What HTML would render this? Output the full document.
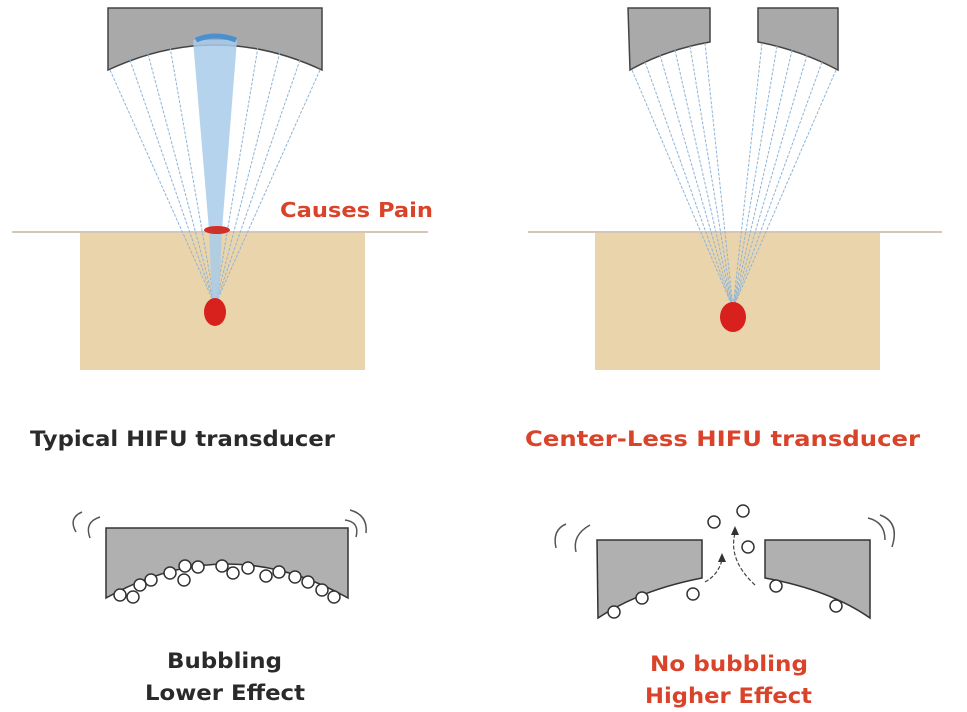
<!DOCTYPE html>
<html><head><meta charset="utf-8"><style>
html,body{margin:0;padding:0;background:#fff}
svg{display:block}
text{font-family:"DejaVu Sans","Liberation Sans",sans-serif;font-weight:bold}
</style></head><body>
<svg width="967" height="712" viewBox="0 0 967 712" xmlns="http://www.w3.org/2000/svg">
<!-- LEFT top -->
<line x1="12" y1="232" x2="428" y2="232" stroke="#c9b49a" stroke-width="1.5"/>
<rect x="80" y="233" width="285" height="137" fill="#e9d4ab"/>
<path d="M108 8 H322 V70 Q215 20 108 70 Z" fill="#a9a9a9" stroke="#444" stroke-width="1.5"/>
<g stroke="#8fb5d8" stroke-width="1" stroke-dasharray="3,1.5" fill="none">
<line x1="110" y1="70" x2="215" y2="305"/>
<line x1="130" y1="60" x2="215" y2="305"/>
<line x1="148" y1="54" x2="215" y2="305"/>
<line x1="170" y1="47" x2="215" y2="305"/>
<line x1="258" y1="47" x2="215" y2="305"/>
<line x1="280" y1="52" x2="215" y2="305"/>
<line x1="300" y1="60" x2="215" y2="305"/>
<line x1="320" y1="70" x2="215" y2="305"/>
</g>
<path d="M193 40 L237 40 L222 230 L219 300 L212 300 L209 230 Z" fill="#a8cbea" opacity="0.85"/>
<path d="M196 40 Q215 32 236 40" stroke="#4a90d0" stroke-width="5" fill="none"/>
<ellipse cx="217" cy="230" rx="13" ry="4" fill="#d0302a"/>
<ellipse cx="215" cy="312" rx="11" ry="14" fill="#d8201c"/>
<text x="280" y="217" font-size="20" fill="#d9432a" textLength="153" lengthAdjust="spacingAndGlyphs">Causes Pain</text>
<!-- RIGHT top -->
<line x1="528" y1="232" x2="942" y2="232" stroke="#c9b49a" stroke-width="1.5"/>
<rect x="595" y="233" width="285" height="137" fill="#e9d4ab"/>
<path d="M628 8 H710 V42 Q665 50 630 70 Z" fill="#a9a9a9" stroke="#444" stroke-width="1.5"/>
<path d="M758 8 H838 V70 Q800 50 758 42 Z" fill="#a9a9a9" stroke="#444" stroke-width="1.5"/>
<g stroke="#8fb5d8" stroke-width="1" stroke-dasharray="3,1.5" fill="none">
<line x1="632" y1="70" x2="733" y2="308"/>
<line x1="645" y1="62" x2="733" y2="308"/>
<line x1="660" y1="55" x2="733" y2="308"/>
<line x1="675" y1="50" x2="733" y2="308"/>
<line x1="690" y1="46" x2="733" y2="308"/>
<line x1="705" y1="43" x2="733" y2="308"/>
<line x1="762" y1="43" x2="733" y2="308"/>
<line x1="777" y1="46" x2="733" y2="308"/>
<line x1="792" y1="50" x2="733" y2="308"/>
<line x1="807" y1="55" x2="733" y2="308"/>
<line x1="822" y1="62" x2="733" y2="308"/>
<line x1="836" y1="70" x2="733" y2="308"/>
</g>
<ellipse cx="733" cy="317" rx="13" ry="15" fill="#d8201c"/>
<!-- titles -->
<text x="30" y="446" font-size="21" fill="#2a2a2a" textLength="305" lengthAdjust="spacingAndGlyphs">Typical HIFU transducer</text>
<text x="525" y="446" font-size="21" fill="#d9432a" textLength="395" lengthAdjust="spacingAndGlyphs">Center-Less HIFU transducer</text>
<!-- bottom left -->
<path d="M106 528 H348 V598 Q227 530 106 598 Z" fill="#b0b0b0" stroke="#333" stroke-width="1.5"/>
<g fill="#fff" stroke="#333" stroke-width="1.5">
<circle cx="120" cy="595" r="6"/><circle cx="133" cy="597" r="6"/><circle cx="140" cy="585" r="6"/>
<circle cx="151" cy="580" r="6"/><circle cx="170" cy="573" r="6"/><circle cx="184" cy="580" r="6"/>
<circle cx="185" cy="566" r="6"/><circle cx="198" cy="567" r="6"/><circle cx="222" cy="566" r="6"/>
<circle cx="233" cy="573" r="6"/><circle cx="248" cy="568" r="6"/><circle cx="266" cy="576" r="6"/>
<circle cx="279" cy="572" r="6"/><circle cx="295" cy="577" r="6"/><circle cx="308" cy="582" r="6"/>
<circle cx="322" cy="590" r="6"/><circle cx="334" cy="597" r="6"/>
</g>
<g stroke="#555" stroke-width="1.5" fill="none">
<path d="M76 532 Q68 518 82 512"/><path d="M90 538 Q84 522 100 517"/>
<path d="M350 510 Q368 515 366 533"/><path d="M345 520 Q360 522 356 537"/>
</g>
<text x="167" y="668" font-size="21" fill="#2a2a2a" textLength="115" lengthAdjust="spacingAndGlyphs">Bubbling</text>
<text x="145" y="700" font-size="21" fill="#2a2a2a" textLength="160" lengthAdjust="spacingAndGlyphs">Lower Effect</text>
<!-- bottom right -->
<path d="M597 540 H702 V578 Q640 590 598 618 Z" fill="#b0b0b0" stroke="#333" stroke-width="1.5"/>
<path d="M765 540 H870 V618 Q830 590 765 578 Z" fill="#b0b0b0" stroke="#333" stroke-width="1.5"/>
<g fill="#fff" stroke="#333" stroke-width="1.5">
<circle cx="614" cy="612" r="6"/><circle cx="642" cy="598" r="6"/><circle cx="693" cy="594" r="6"/>
<circle cx="714" cy="522" r="6"/><circle cx="743" cy="511" r="6"/><circle cx="748" cy="547" r="6"/>
<circle cx="776" cy="586" r="6"/><circle cx="836" cy="606" r="6"/>
</g>
<g stroke="#444" stroke-width="1.2" fill="none" stroke-dasharray="4,2">
<path d="M705 582 Q718 575 722 560"/><path d="M755 585 Q728 560 735 533"/>
</g>
<path d="M718 562 L722 553 L726 562 Z" fill="#333"/><path d="M731 535 L735 526 L739 535 Z" fill="#333"/>
<g stroke="#555" stroke-width="1.5" fill="none">
<path d="M556 548 Q552 530 566 524"/><path d="M576 552 Q572 535 590 525"/>
<path d="M868 518 Q885 522 885 540"/><path d="M880 515 Q900 522 892 547"/>
</g>
<text x="650" y="671" font-size="21" fill="#d9432a" textLength="158" lengthAdjust="spacingAndGlyphs">No bubbling</text>
<text x="645" y="703" font-size="21" fill="#d9432a" textLength="167" lengthAdjust="spacingAndGlyphs">Higher Effect</text>
</svg>
</body></html>
